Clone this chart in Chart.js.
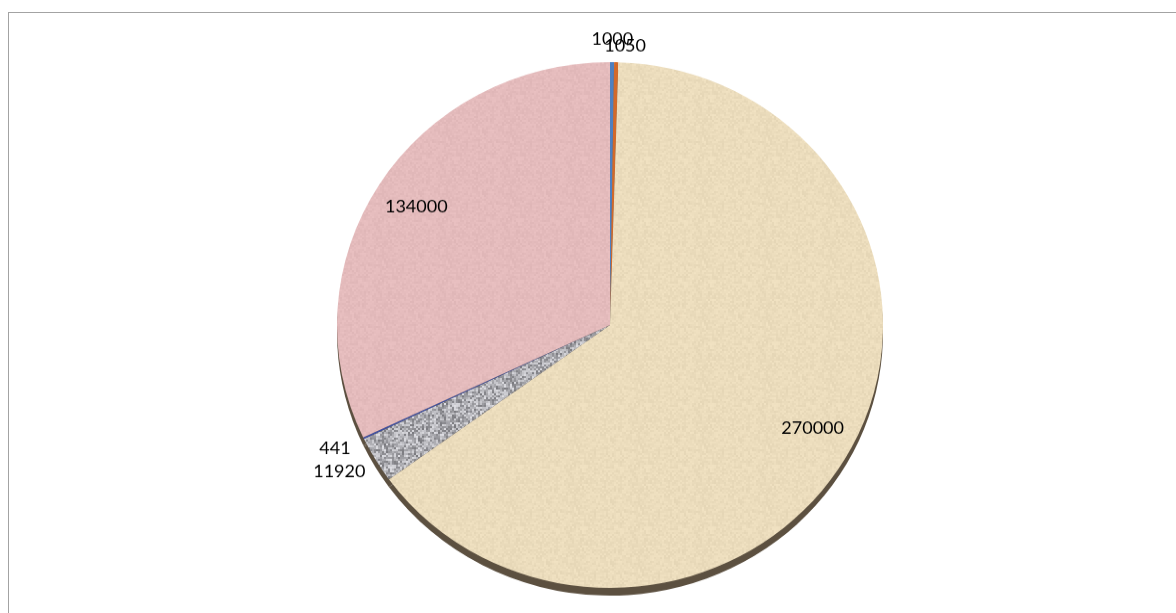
<!DOCTYPE html>
<html>
<head>
<meta charset="utf-8">
<script src="https://cdn.jsdelivr.net/npm/chart.js@4.4.1/dist/chart.umd.min.js"></script>
<style>
    html, body { margin: 0; padding: 0; background: #fff; }
    #wrap { position: relative; width: 1176px; height: 613px; overflow: hidden; }
    #frame {
        position: absolute; left: 8px; top: 12px; width: 1300px; height: 700px;
        border-left: 1px solid #a3a3a3; border-top: 1px solid #a3a3a3;
    }
    /* pie sedikit pipih seperti versi 3D */
    #chartBox {
        position: absolute; left: 0; top: 0; width: 1176px; height: 613px;
        transform-origin: 0 325px; transform: scaleY(0.963);
    }
</style>
</head>
<body>
<div id="wrap">
    <div id="frame"></div>
    <div id="chartBox"><canvas id="pieChart"></canvas></div>
</div>
<script>
// Data dari grafik
const labels = ['A', 'B', 'C', 'D', 'E', 'F'];
const nilai = [1000, 1050, 270000, 11920, 441, 134000];
const warna = ['#4f7fbf', '#d2692a', '#ebdcbb', '#b0b0b4', '#3c4fa8', '#e4babb'];

// Tekstur bintik (pseudo-noise tetap, bukan data)
function buatTekstur(base, amp, size, blok) {
    const c = document.createElement('canvas');
    c.width = size; c.height = size;
    const g = c.getContext('2d');
    const img = g.createImageData(size, size);
    for (let y = 0; y < size; y++) {
        for (let x = 0; x < size; x++) {
            const bx = Math.floor(x / blok), by = Math.floor(y / blok);
            let h = (bx * 374761393 + by * 668265263) | 0;
            h = ((h ^ (h >>> 13)) * 1274126177) | 0;
            const n = (((h ^ (h >>> 16)) >>> 0) % 1000) / 1000 - 0.5;
            const i = (y * size + x) * 4;
            img.data[i] = Math.max(0, Math.min(255, base[0] + n * amp));
            img.data[i + 1] = Math.max(0, Math.min(255, base[1] + n * amp));
            img.data[i + 2] = Math.max(0, Math.min(255, base[2] + n * amp));
            img.data[i + 3] = 255;
        }
    }
    g.putImageData(img, 0, 0);
    return g.createPattern(c, 'repeat');
}

const isiWarna = warna.slice();
isiWarna[2] = buatTekstur([235, 220, 188], 12, 64, 2);
isiWarna[3] = buatTekstur([172, 172, 177], 100, 64, 2);
isiWarna[5] = buatTekstur([228, 187, 188], 10, 64, 2);

// Bayangan tebal 3D di bawah pie
const plugTebal = {
    id: 'tebal',
    beforeDatasetsDraw(chart) {
        const ctx = chart.ctx;
        const meta = chart.getDatasetMeta(0);
        ctx.save();
        ctx.translate(0, 8);
        ctx.fillStyle = '#5c5040';
        meta.data.forEach(arc => {
            const p = arc.getProps(['x', 'y', 'startAngle', 'endAngle', 'outerRadius']);
            ctx.beginPath();
            ctx.moveTo(p.x, p.y);
            ctx.arc(p.x, p.y, p.outerRadius, p.startAngle, p.endAngle);
            ctx.closePath();
            ctx.fill();
        });
        ctx.restore();
    }
};

// Label nilai
const plugLabel = {
    id: 'labelNilai',
    afterDatasetsDraw(chart) {
        const ctx = chart.ctx;
        const meta = chart.getDatasetMeta(0);
        const total = nilai.reduce((a, b) => a + b, 0);
        ctx.save();
        ctx.font = '18px Lato';
        ctx.fillStyle = '#000';
        ctx.textAlign = 'center';
        ctx.textBaseline = 'middle';
        meta.data.forEach((arc, i) => {
            const p = arc.getProps(['x', 'y', 'startAngle', 'endAngle', 'outerRadius']);
            const mid = (p.startAngle + p.endAngle) / 2;
            const dx = Math.cos(mid), dy = Math.sin(mid);
            const teks = String(nilai[i]);
            let x, y;
            if (nilai[i] / total > 0.05) {
                x = p.x + dx * p.outerRadius * 0.84;
                y = p.y + dy * p.outerRadius * 0.84;
            } else {
                const w = ctx.measureText(teks).width / 2;
                x = p.x + dx * (p.outerRadius + 16) + dx * w;
                y = p.y + dy * (p.outerRadius + 16) + dy * 8;
                // dua label kecil di puncak saling tumpuk seperti aslinya
                if (i === 1) { x += 8; y += 7; }
            }
            ctx.fillText(teks, x, y);
        });
        ctx.restore();
    }
};

new Chart(document.getElementById('pieChart'), {
    type: 'pie',
    data: {
        labels: labels,
        datasets: [{
            data: nilai,
            backgroundColor: isiWarna,
            borderWidth: 0
        }]
    },
    options: {
        responsive: true,
        maintainAspectRatio: false,
        animation: false,
        layout: { padding: { top: 52, bottom: 15, left: 74, right: 30 } },
        plugins: { legend: { display: false }, tooltip: { enabled: false } }
    },
    plugins: [plugTebal, plugLabel]
});
</script>
</body>
</html>
